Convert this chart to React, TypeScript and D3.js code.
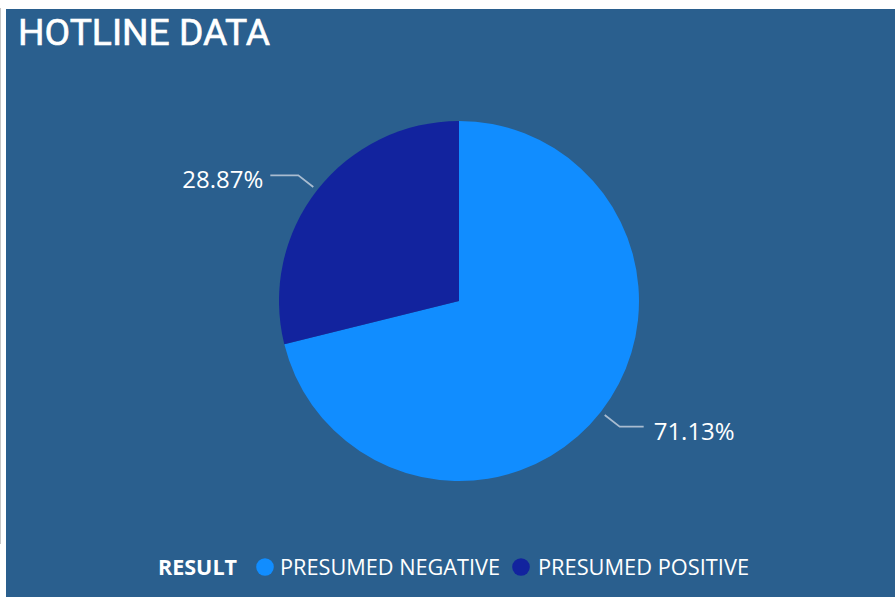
import React from "react";
import * as d3 from "d3";

const categories = ["PRESUMED NEGATIVE", "PRESUMED POSITIVE"];
const values = [71.13, 28.87];
const colors = ["#118DFF", "#12239E"];
const title = "HOTLINE DATA";
const legendTitle = "RESULT";

const W = 895;
const H = 597;

export default function App() {
  const cx = 459;
  const cy = 301;
  const r = 180;
  const pie = d3.pie<number>().sort(null).value((d) => d).startAngle(0).endAngle(2 * Math.PI);
  const arcs = pie(values);
  const arc = d3.arc<d3.PieArcDatum<number>>().innerRadius(0).outerRadius(r);
  const total = d3.sum(values);
  const fmt = (v: number) => ((v / total) * 100).toFixed(2) + "%";

  const legendItems = [
    { x: 265, tx: 280, tl: 220 },
    { x: 521, tx: 538, tl: 211 },
  ];

  return (
    <svg
      width={W}
      height={H}
      style={{ position: "fixed", left: 0, top: 0, display: "block" }}
      fontFamily="'Segoe UI', 'Open Sans', sans-serif"
    >
      <rect x={0} y={0} width={W} height={H} fill="#ffffff" />
      <line x1={0.5} y1={8} x2={0.5} y2={544} stroke="#c8c8c8" strokeWidth={1} />
      <rect x={6} y={9} width={W - 6} height={H - 9} fill="#2A5F8E" />
      <text
        x={18}
        y={45}
        fill="#ffffff"
        stroke="#ffffff"
        strokeWidth={0.6}
        fontSize={37}
        fontFamily="Roboto, 'DejaVu Sans', sans-serif"
        textLength={252}
        lengthAdjust="spacingAndGlyphs"
      >
        {title}
      </text>
      <g transform={`translate(${cx},${cy})`}>
        {arcs.map((a, i) => (
          <path key={i} d={arc(a) || ""} fill={colors[i]} />
        ))}
      </g>
      {arcs.map((a, i) => {
        const mid = (a.startAngle + a.endAngle) / 2;
        const sx = cx + Math.sin(mid) * 185;
        const sy = cy - Math.cos(mid) * 185;
        const ex = cx + Math.sin(mid) * 204;
        const ey = cy - Math.cos(mid) * 204;
        const right = Math.sin(mid) > 0;
        const hx = right ? ex + 24 : ex - 28;
        const tx = right ? hx + 10 : hx - 7;
        return (
          <g key={i}>
            <polyline
              points={`${sx},${sy} ${ex},${ey} ${hx},${ey}`}
              fill="none"
              stroke="#A9BCD0"
              strokeWidth={1.8}
            />
            <text
              x={tx}
              y={ey + 13}
              fill="#ffffff"
              fontSize={24}
              textAnchor={right ? "start" : "end"}
              textLength={81}
              lengthAdjust="spacingAndGlyphs"
            >
              {fmt(a.data)}
            </text>
          </g>
        );
      })}
      <text x={158} y={575} fill="#ffffff" fontSize={21} fontWeight="bold" textLength={79} lengthAdjust="spacingAndGlyphs">
        {legendTitle}
      </text>
      {categories.map((c, i) => (
        <g key={c}>
          <circle cx={legendItems[i].x} cy={567} r={8.8} fill={colors[i]} />
          <text
            x={legendItems[i].tx}
            y={575}
            fill="#ffffff"
            fontSize={21}
            textLength={legendItems[i].tl}
            lengthAdjust="spacingAndGlyphs"
          >
            {c}
          </text>
        </g>
      ))}
    </svg>
  );
}
